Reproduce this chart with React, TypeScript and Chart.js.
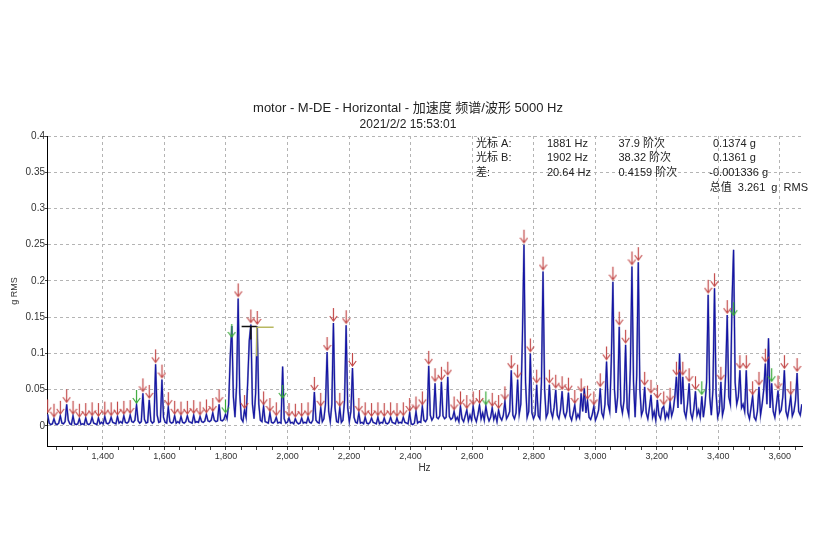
import React, { useEffect, useRef } from "react";
import { Chart, registerables } from "chart.js";

Chart.register(...registerables);

const TITLE = "motor - M-DE - Horizontal - 加速度 频谱/波形 5000 Hz";
const SUBTITLE = "2021/2/2 15:53:01";
const X_TITLE = "Hz";
const Y_TITLE = "g RMS";

// spectrum sampling: first bin and bin width (Hz); every 4th bin is a 20.64 Hz family line
const START_HZ = 1220.5;
const STEP_HZ = 5.16;
const BINS_PER_ORDER = 4;

// amplitudes (g RMS), one row per 20.64 Hz family line: peak, then 3 bins in between
const AMPS = [
  0.016, 0.004, 0.002, 0.003,  0.010, 0.003, 0.002, 0.004,
  0.014, 0.004, 0.003, 0.006,  0.030, 0.008, 0.003, 0.002,
  0.014, 0.003, 0.002, 0.003,  0.010, 0.002, 0.003, 0.002,
  0.011, 0.003, 0.002, 0.004,  0.012, 0.004, 0.003, 0.002,
  0.011, 0.003, 0.005, 0.003,  0.013, 0.004, 0.003, 0.005,
  0.012, 0.005, 0.004, 0.003,  0.013, 0.004, 0.006, 0.004,
  0.014, 0.005, 0.004, 0.006,  0.015, 0.006, 0.005, 0.008,
  0.029, 0.007, 0.004, 0.006,  0.045, 0.009, 0.004, 0.005,
  0.036, 0.007, 0.004, 0.006,  0.085, 0.015, 0.005, 0.006,
  0.064, 0.012, 0.005, 0.004,  0.026, 0.006, 0.004, 0.005,
  0.014, 0.004, 0.006, 0.004,  0.013, 0.005, 0.004, 0.006,
  0.014, 0.006, 0.005, 0.004,  0.015, 0.005, 0.006, 0.005,
  0.013, 0.006, 0.005, 0.007,  0.016, 0.007, 0.006, 0.008,
  0.018, 0.008, 0.006, 0.007,  0.030, 0.008, 0.007, 0.009,
  0.016, 0.010, 0.030, 0.095,  0.138, 0.040, 0.012, 0.055,
  0.176, 0.045, 0.010, 0.006,  0.022, 0.012, 0.060, 0.118,
  0.140, 0.030, 0.010, 0.045,  0.138, 0.030, 0.008, 0.006,
  0.027, 0.006, 0.005, 0.004,  0.018, 0.005, 0.004, 0.006,
  0.012, 0.004, 0.005, 0.004,  0.082, 0.010, 0.004, 0.005,
  0.011, 0.004, 0.005, 0.003,  0.010, 0.005, 0.003, 0.004,
  0.011, 0.004, 0.005, 0.004,  0.012, 0.005, 0.004, 0.008,
  0.047, 0.008, 0.005, 0.004,  0.025, 0.006, 0.010, 0.030,
  0.102, 0.020, 0.006, 0.030,  0.142, 0.025, 0.006, 0.005,
  0.025, 0.005, 0.008, 0.035,  0.139, 0.025, 0.006, 0.020,
  0.080, 0.012, 0.005, 0.004,  0.018, 0.004, 0.005, 0.003,
  0.012, 0.004, 0.003, 0.005,  0.011, 0.005, 0.004, 0.003,
  0.012, 0.003, 0.005, 0.004,  0.011, 0.004, 0.003, 0.005,
  0.012, 0.005, 0.004, 0.003,  0.011, 0.004, 0.005, 0.004,
  0.012, 0.005, 0.004, 0.003,  0.018, 0.003, 0.002, 0.004,
  0.020, 0.004, 0.006, 0.005,  0.027, 0.008, 0.006, 0.010,
  0.083, 0.015, 0.008, 0.012,  0.059, 0.012, 0.010, 0.014,
  0.061, 0.014, 0.010, 0.012,  0.068, 0.013, 0.009, 0.011,
  0.020, 0.008, 0.012, 0.006,  0.027, 0.010, 0.006, 0.014,
  0.022, 0.007, 0.015, 0.008,  0.027, 0.012, 0.006, 0.016,
  0.029, 0.010, 0.018, 0.008,  0.027, 0.014, 0.007, 0.012,
  0.025, 0.009, 0.016, 0.006,  0.022, 0.012, 0.008, 0.015,
  0.034, 0.010, 0.014, 0.020,  0.077, 0.015, 0.010, 0.018,
  0.064, 0.016, 0.030, 0.120,  0.250, 0.060, 0.012, 0.020,
  0.100, 0.018, 0.010, 0.016,  0.057, 0.014, 0.010, 0.060,
  0.213, 0.050, 0.012, 0.018,  0.057, 0.020, 0.012, 0.026,
  0.050, 0.015, 0.010, 0.022,  0.048, 0.018, 0.012, 0.020,
  0.046, 0.014, 0.008, 0.018,  0.029, 0.010, 0.016, 0.011,
  0.045, 0.020, 0.052, 0.018,  0.035, 0.012, 0.009, 0.016,
  0.027, 0.008, 0.014, 0.022,  0.052, 0.018, 0.012, 0.030,
  0.089, 0.030, 0.020, 0.090,  0.199, 0.050, 0.018, 0.040,
  0.137, 0.030, 0.018, 0.035,  0.112, 0.025, 0.015, 0.080,
  0.220, 0.060, 0.012, 0.070,  0.226, 0.050, 0.015, 0.022,
  0.054, 0.018, 0.010, 0.025,  0.043, 0.012, 0.020, 0.008,
  0.036, 0.015, 0.010, 0.024,  0.027, 0.010, 0.018, 0.012,
  0.032, 0.014, 0.022, 0.040,  0.068, 0.025, 0.100, 0.030,
  0.068, 0.020, 0.012, 0.030,  0.059, 0.018, 0.010, 0.024,
  0.048, 0.015, 0.022, 0.012,  0.041, 0.012, 0.030, 0.060,
  0.181, 0.040, 0.015, 0.050,  0.190, 0.045, 0.012, 0.020,
  0.061, 0.015, 0.025, 0.070,  0.153, 0.040, 0.030, 0.170,
  0.243, 0.060, 0.030, 0.040,  0.077, 0.025, 0.030, 0.020,
  0.077, 0.018, 0.010, 0.025,  0.041, 0.012, 0.008, 0.020,
  0.054, 0.015, 0.030, 0.050,  0.086, 0.030, 0.121, 0.025,
  0.059, 0.020, 0.012, 0.030,  0.049, 0.018, 0.022, 0.040,
  0.077, 0.020, 0.012, 0.025,  0.041, 0.014, 0.020, 0.035,
  0.073, 0.020, 0.015, 0.030,
];

// peak markers: which family lines carry a green marker, and markers not sitting on the top
const GREEN_ORDERS = [14, 28, 29, 37, 69, 103, 108, 114];
const MARKER_OVERRIDE_ORDERS = [29, 37, 108];
const MARKER_OVERRIDE_G = [0.12, 0.036, 0.15];

// cursors
const CURSOR_A_HZ = 1881;
const CURSOR_A_G = 0.1374;
const CURSOR_B_HZ = 1902;
const CURSOR_B_G = 0.1361;

const READOUT_LABELS = ["光标 A:", "光标 B:", "差:"];
const READOUT_HZ = ["1881 Hz", "1902 Hz", "20.64 Hz"];
const READOUT_ORDERS = ["37.9 阶次", "38.32 阶次", "0.4159 阶次"];
const READOUT_G = ["0.1374 g", "0.1361 g", "-0.001336 g"];
const OVERALL = "总值 3.261 g RMS";

const Y_TICKS = [0, 0.05, 0.1, 0.15, 0.2, 0.25, 0.3, 0.35, 0.4];
const X_MAJOR_STEP = 200;
const X_MINOR_STEP = 50;
const X_MIN = 1218.5;
const X_MAX = 3672;
const Y_MIN = -0.0276;
const Y_MAX = 0.4;

const FONT = '"Liberation Sans", Arial, "Noto Sans CJK SC", sans-serif';

function makeArrow(color: string) {
  const c = document.createElement("canvas");
  c.width = 9;
  c.height = 32;
  const g = c.getContext("2d")!;
  g.strokeStyle = color;
  g.lineWidth = 1.2;
  g.beginPath();
  g.moveTo(4.5, 1);
  g.lineTo(4.5, 14);
  g.stroke();
  g.beginPath();
  g.moveTo(0.8, 9);
  g.lineTo(4.5, 14);
  g.lineTo(8.2, 9);
  g.stroke();
  return c;
}

export default function App() {
  const ref = useRef<HTMLCanvasElement | null>(null);

  useEffect(() => {
    if (!ref.current) return;
    Chart.defaults.font.family = FONT;
    Chart.defaults.color = "#222";

    const spectrum = AMPS.map((v, i) => ({ x: START_HZ + i * STEP_HZ, y: v }));
    const red: { x: number; y: number }[] = [];
    const green: { x: number; y: number }[] = [];
    for (let i = 0; i < AMPS.length; i += BINS_PER_ORDER) {
      const order = i / BINS_PER_ORDER;
      const oi = MARKER_OVERRIDE_ORDERS.indexOf(order);
      const pt = { x: spectrum[i].x, y: oi >= 0 ? MARKER_OVERRIDE_G[oi] : spectrum[i].y };
      if (GREEN_ORDERS.includes(order)) green.push(pt);
      else red.push(pt);
    }

    const xTicks: number[] = [];
    for (let v = Math.ceil(X_MIN / X_MINOR_STEP) * X_MINOR_STEP; v <= X_MAX; v += X_MINOR_STEP) xTicks.push(v);

    const chart = new Chart(ref.current, {
      type: "line",
      data: {
        datasets: [
          {
            data: red,
            showLine: false,
            pointStyle: makeArrow("#c24848"),
            pointRadius: 5,
          },
          {
            data: green,
            showLine: false,
            pointStyle: makeArrow("#3aaa3a"),
            pointRadius: 5,
          },
          {
            data: [
              { x: CURSOR_A_HZ - 30, y: CURSOR_A_G },
              { x: CURSOR_A_HZ, y: CURSOR_A_G },
              { x: CURSOR_A_HZ, y: CURSOR_A_G - 0.018 },
              { x: CURSOR_A_HZ, y: CURSOR_A_G },
              { x: CURSOR_B_HZ - 2, y: CURSOR_A_G },
            ],
            borderColor: "#111",
            borderWidth: 1.5,
            pointRadius: 0,
          },
          {
            data: [
              { x: CURSOR_B_HZ + 53, y: CURSOR_B_G },
              { x: CURSOR_B_HZ - 2, y: CURSOR_B_G },
              { x: CURSOR_B_HZ - 2, y: CURSOR_B_G - 0.04 },
            ],
            borderColor: "#b8b860",
            borderWidth: 1.5,
            pointRadius: 0,
          },
          {
            data: spectrum,
            borderColor: "#1414a4",
            borderWidth: 1.1,
            pointRadius: 0,
            tension: 0,
          },
          {
            data: spectrum,
            borderColor: "#8a8fc2",
            borderWidth: 1.9,
            pointRadius: 0,
            tension: 0,
          },
        ],
      },
      options: {
        animation: false,
        responsive: false,
        layout: { padding: { top: 128, left: 0, right: 0, bottom: 0 } },
        plugins: { legend: { display: false }, tooltip: { enabled: false }, title: { display: false } },
        scales: {
          x: {
            type: "linear",
            min: X_MIN,
            max: X_MAX,
            afterBuildTicks: (s: any) => {
              s.ticks = xTicks.map((v) => ({ value: v }));
            },
            afterFit: (s: any) => {
              s.height = 82;
            },
            ticks: {
              autoSkip: false,
              maxRotation: 0,
              padding: 1,
              font: { size: 9 },
              color: "#333",
              callback: (v: any) => (Number(v) % X_MAJOR_STEP === 0 ? Number(v).toLocaleString("en-US") : ""),
            },
            grid: {
              color: (ctx: any) =>
                ctx.tick && ctx.tick.value % X_MAJOR_STEP === 0 ? "#b4b4b4" : "rgba(0,0,0,0)",
              tickColor: "#444",
              tickLength: 4,
              lineWidth: 1,
            },
            border: { display: true, color: "#000", width: 1, dash: [3, 3] },
            title: { display: true, text: X_TITLE, font: { size: 10 }, color: "#333", padding: { top: 0, bottom: 54 } },
          },
          y: {
            type: "linear",
            min: Y_MIN,
            max: Y_MAX,
            afterBuildTicks: (s: any) => {
              s.ticks = Y_TICKS.map((v) => ({ value: v }));
            },
            afterFit: (s: any) => {
              s.width = 39;
            },
            ticks: {
              padding: 0,
              font: { size: 10 },
              color: "#333",
              callback: (v: any) => String(v),
            },
            grid: { color: "#b4b4b4", tickColor: "#444", tickLength: 2, lineWidth: 1 },
            border: { display: true, color: "#000", width: 1, dash: [3, 3] },
            title: { display: true, text: Y_TITLE, font: { size: 9 }, color: "#333", padding: { top: 1, bottom: 0 } },
          },
        },
      },
    });
    return () => chart.destroy();
  }, []);

  const txt: React.CSSProperties = {
    position: "absolute",
    fontFamily: FONT,
    fontSize: 11,
    lineHeight: "13px",
    color: "#222",
    whiteSpace: "pre",
    pointerEvents: "none",
  };
  const rowTops = [128.5, 143, 157.5];
  const colLeft = [468, 539, 610.5, 705];

  return (
    <div style={{ position: "relative", width: 800, height: 520 }}>
      <canvas ref={ref} width={800} height={520} style={{ display: "block" }} />
      <div
        style={{
          ...txt,
          left: 0,
          width: 800,
          textAlign: "center",
          top: 92,
          fontSize: 13,
          lineHeight: "16px",
        }}
      >
        {TITLE}
      </div>
      <div
        style={{
          ...txt,
          left: 0,
          width: 800,
          textAlign: "center",
          top: 109,
          fontSize: 12,
          lineHeight: "14px",
        }}
      >
        {SUBTITLE}
      </div>
      {READOUT_LABELS.map((lab, r) => (
        <React.Fragment key={r}>
          <div style={{ ...txt, left: colLeft[0], top: rowTops[r] }}>{lab}</div>
          <div style={{ ...txt, left: colLeft[1], top: rowTops[r] }}>{READOUT_HZ[r]}</div>
          <div style={{ ...txt, left: colLeft[2], top: rowTops[r] }}>{READOUT_ORDERS[r]}</div>
          <div
            style={{
              ...txt,
              left: READOUT_G[r].startsWith("-") ? colLeft[3] - 3.7 : colLeft[3],
              top: rowTops[r],
            }}
          >
            {READOUT_G[r]}
          </div>
        </React.Fragment>
      ))}
      <div style={{ ...txt, right: 0, top: 172.5, wordSpacing: 3 }}>{OVERALL}</div>
    </div>
  );
}
